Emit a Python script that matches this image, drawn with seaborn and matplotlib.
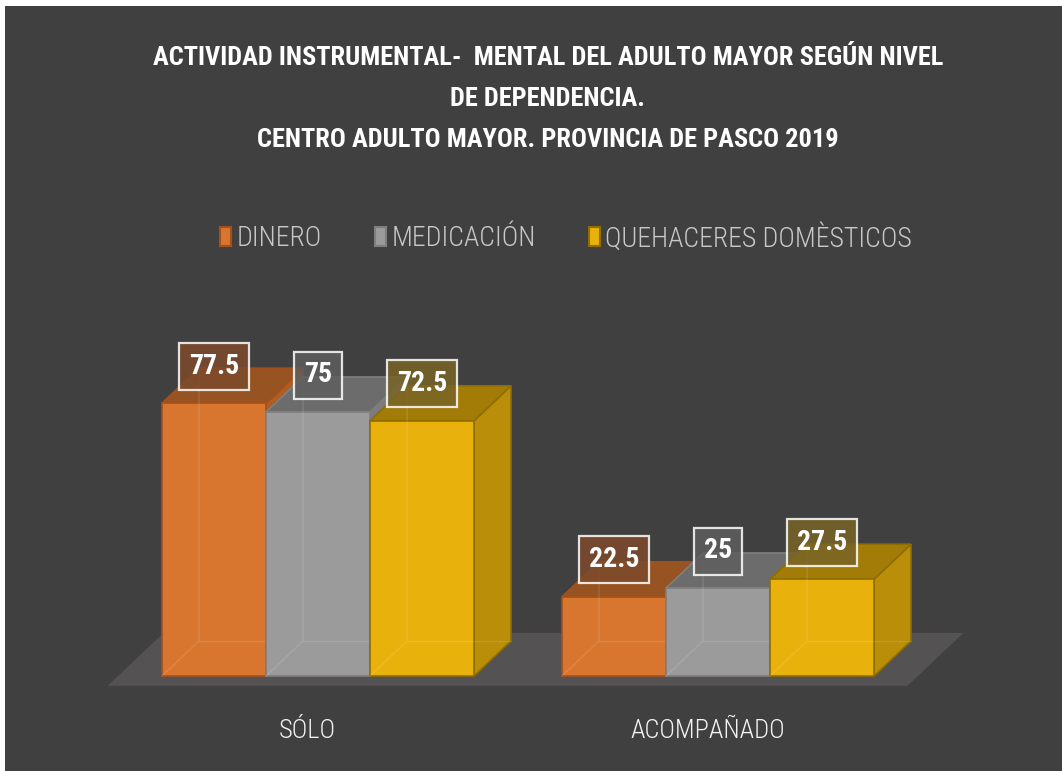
import numpy as np
import pandas as pd
import seaborn as sns
import matplotlib.pyplot as plt
from matplotlib.patches import Polygon, Patch, Rectangle
from matplotlib.colors import to_rgb

# datos
categorias = ['SÓLO', 'ACOMPAÑADO']
series = ['DINERO', 'MEDICACIÓN', 'QUEHACERES DOMÈSTICOS']
dinero = [77.5, 22.5]
medicacion = [75, 25]
quehaceres = [72.5, 27.5]

titulo = ('ACTIVIDAD INSTRUMENTAL-  MENTAL DEL ADULTO MAYOR SEGÚN NIVEL\n'
          'DE DEPENDENCIA.\n'
          'CENTRO ADULTO MAYOR. PROVINCIA DE PASCO 2019')

colores = ['#D8762F', '#9B9B9B', '#E9B10B']
bordes = ['#A4501A', '#7F7F7F', '#8F6D00']
cajas = ['#7D4A2B', '#5E5E5E', '#786426']

df = pd.DataFrame({
    'nivel': categorias * 3,
    'actividad': np.repeat(series, len(categorias)),
    'valor': dinero + medicacion + quehaceres,
})

sns.set_theme(style='white')
plt.rcParams['font.family'] = ['Roboto Condensed', 'DejaVu Sans']
plt.rcParams['font.stretch'] = 'condensed'


def oscuro(c, f):
    r, g, b = to_rgb(c)
    return (r * f, g * f, b * f)


W, H = 1062, 771
fig = plt.figure(figsize=(W / 100, H / 100), dpi=100, facecolor='white')
fig.patches.append(Rectangle((5 / W, 0), 1, 1 - 6 / H, transform=fig.transFigure,
                             fc='#404040', ec='none', zorder=-5))
ax = fig.add_axes([0, 0, 1, 1])
ax.set_facecolor('none')

sns.barplot(data=df, x='nivel', y='valor', hue='actividad', palette=colores,
            width=0.78, saturation=1, legend=False, ax=ax)

# escala en pixeles
px_x, px_y = 400, 3.52
x0_px, base_row = 318, 676
ax.set_xlim(-x0_px / px_x, (W - x0_px) / px_x)
ax.set_ylim(-(H - base_row) / px_y, base_row / px_y)
ax.axis('off')

# profundidad del efecto 3D
DX, DY = 37 / px_x, 35 / px_y

# piso
t0, t1 = -0.28, 1.23
x_ini, x_fin = -0.5, len(categorias) - 0.5
ax.add_patch(Polygon([(x_ini + t0 * DX, t0 * DY), (x_fin + t0 * DX, t0 * DY),
                      (x_fin + t1 * DX, t1 * DY), (x_ini + t1 * DX, t1 * DY)],
                     fc='#545252', ec='none', zorder=2))

barras = [(p, i // len(categorias)) for i, p in enumerate(list(ax.patches)[:6])]
barras.sort(key=lambda b: b[0].get_x())

for k, (p, s) in enumerate(barras):
    x, w, h = p.get_x(), p.get_width(), p.get_height()
    c, e = colores[s], bordes[s]
    z = 10 + 5 * k
    ax.add_patch(Polygon([(x + w, 0), (x + w + DX, DY), (x + w + DX, h + DY), (x + w, h)],
                         fc=oscuro(c, 0.8), ec=e, lw=1.2, zorder=z))
    ax.add_patch(Polygon([(x, h), (x + DX, h + DY), (x + w + DX, h + DY), (x + w, h)],
                         fc=oscuro(c, 0.7), ec=e, lw=1.2, zorder=z + 1))
    p.set_edgecolor(e)
    p.set_linewidth(1.2)
    p.set_zorder(z + 2)
    # aristas traseras vistas por transparencia
    ax.plot([x, x + DX, x + DX], [0, DY, h + DY], color='white', alpha=0.12, lw=1, zorder=z + 3)
    ax.plot([x + DX, x + w + DX], [DY, DY], color='white', alpha=0.12, lw=1, zorder=z + 3)
    ax.text(x + w / 2, h + 37 / px_y, f'{h:g}', ha='center', va='center', fontsize=20,
            fontweight='bold', color='white', zorder=100,
            bbox=dict(boxstyle='square,pad=0.36', fc=cajas[s], alpha=0.85,
                      ec=(1, 1, 1, 0.5), lw=1.6))

for i, cat in enumerate(categorias):
    ax.text(i + t0 * DX, -55 / px_y, cat, ha='center', va='center', fontsize=19,
            color='#F2F2F2', fontweight='light')

handles = [Patch(fc=colores[i], ec=bordes[i], lw=1.5, label=series[i]) for i in range(3)]
ax.legend(handles=handles, ncol=3, loc='center', bbox_to_anchor=(566 / W, 1 - 238 / H),
          frameon=False, handlelength=0.4, handleheight=0.7, handletextpad=0.2,
          columnspacing=1.9, labelcolor='#C8C8C8',
          prop={'size': 20, 'weight': 'light', 'family': ['Roboto Condensed', 'DejaVu Sans'],
                'stretch': 'condensed'})

fig.text(548 / W, 1 - 99 / H, titulo, ha='center', va='center', fontsize=19,
         fontweight='bold', color='white', linespacing=1.9)

fig.savefig('out.png', dpi=100, facecolor=fig.get_facecolor())
